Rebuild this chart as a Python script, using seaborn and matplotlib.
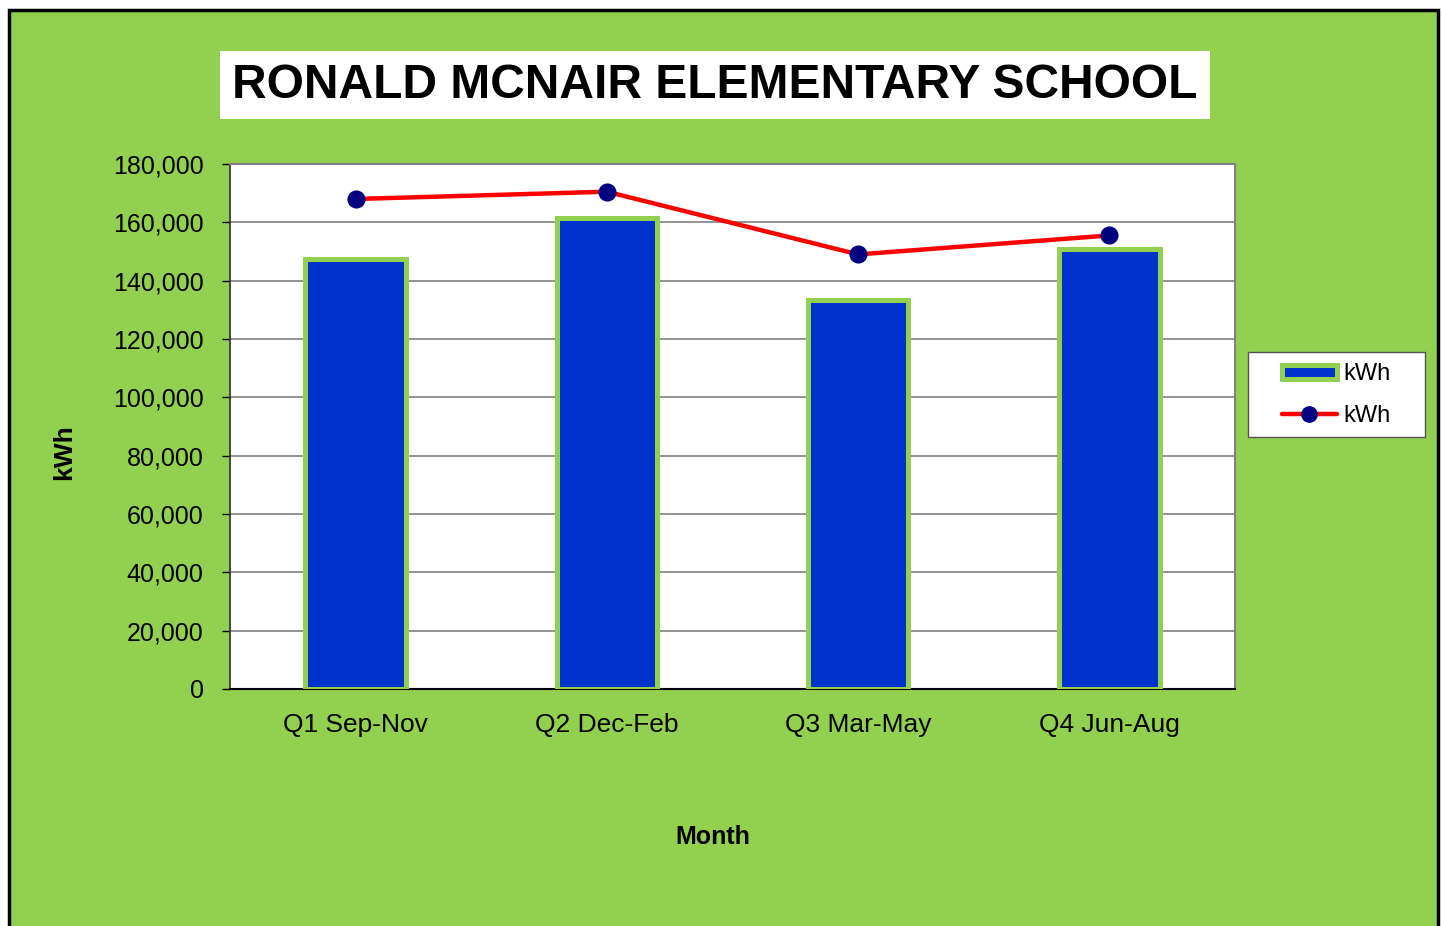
import matplotlib
matplotlib.use("Agg")
import matplotlib.pyplot as plt
from matplotlib.patches import Rectangle, Patch
from matplotlib.lines import Line2D
import seaborn as sns
import pandas as pd
import numpy as np

quarters = ["Q1 Sep-Nov", "Q2 Dec-Feb", "Q3 Mar-May", "Q4 Jun-Aug"]
bar_kwh = [147500, 161500, 133500, 151000]
line_kwh = [168000, 170500, 149000, 155500]
yticks = [0, 20000, 40000, 60000, 80000, 100000, 120000, 140000, 160000, 180000]

sns.set_theme(style="white")
plt.rcParams['font.family'] = ['Liberation Sans Narrow', 'Liberation Sans', 'DejaVu Sans']
plt.rcParams['text.color'] = 'black'
plt.rcParams['axes.labelcolor'] = 'black'
plt.rcParams['xtick.color'] = 'black'
plt.rcParams['ytick.color'] = 'black'

W, H = 1442, 926
fig = plt.figure(figsize=(W / 100, H / 100), dpi=100)
fig.patch.set_facecolor("white")

GREEN = "#92D050"
# outer green panel with black border
fig.patches.append(Rectangle((9 / W, -0.05), (1438 - 9) / W, 1 - 10 / H + 0.05,
                             transform=fig.transFigure, facecolor=GREEN,
                             edgecolor="black", linewidth=2.5, zorder=-10))

ax = fig.add_axes([230 / W, 1 - 689 / H, (1235 - 230) / W, (689 - 164) / H])
ax.set_facecolor("white")
ax.set_zorder(1)

df = pd.DataFrame({"quarter": quarters, "bar": bar_kwh, "line": line_kwh})

sns.barplot(data=df, x="quarter", y="bar", ax=ax, color="#0033CC", width=0.40,
            edgecolor=GREEN, linewidth=3.6, saturation=1, zorder=3)
for p in ax.patches:
    p.set_facecolor("#0033CC")

sns.pointplot(data=df, x="quarter", y="line", ax=ax, color="red",
              markers="o", linestyles="-")
for ln in ax.lines:
    ln.set_linewidth(3.2)
    ln.set_markersize(11)
    ln.set_markerfacecolor("#000080")
    ln.set_markeredgecolor("#000080")
    ln.set_zorder(5)
for c in ax.collections:
    c.set_facecolor("#000080")
    c.set_edgecolor("#000080")

ax.set_xlim(-0.5, 3.5)
ax.set_ylim(0, 180000)
ax.set_yticks(yticks)
ax.set_yticklabels([f"{v:,}" for v in yticks], fontsize=18)
ax.set_xticks(range(4))
ax.set_xticklabels(quarters, fontsize=19)
ax.set_xticks(np.arange(-0.5, 4.0, 1.0), minor=True)
ax.tick_params(axis="x", which="major", length=0, pad=17)
ax.tick_params(axis="x", which="minor", length=12, direction="inout", width=1, color="#333333")
ax.tick_params(axis="y", which="major", length=6, direction="out", width=1, color="black", pad=13, left=True)
ax.yaxis.grid(True, color="#808080", linewidth=1.2, zorder=0)
ax.set_axisbelow(True)

for s in ["top", "right"]:
    ax.spines[s].set_color("#808080")
    ax.spines[s].set_linewidth(1.5)
ax.spines["left"].set_color("#333333")
ax.spines["bottom"].set_color("black")
ax.spines["bottom"].set_linewidth(1.5)

ax.set_xlabel("Month", fontsize=18, fontweight="bold", family=["Liberation Sans", "DejaVu Sans"])
ax.set_ylabel("kWh", fontsize=19, fontweight="bold", family=["Liberation Sans", "DejaVu Sans"])
ax.xaxis.set_label_coords((713 - 230) / 1005, -(825 - 689) / 525)
ax.yaxis.set_label_coords(-(230 - 76) / 1005, (689 - 452) / 525)

# title box
fig.text(715 / W, 1 - 85 / H, "RONALD MCNAIR ELEMENTARY SCHOOL", fontsize=34.5,
         fontweight="bold", family=["Liberation Sans", "DejaVu Sans"], color="black",
         ha="center", va="center",
         bbox=dict(facecolor="white", edgecolor="none", boxstyle="square,pad=0.25"))

# legend frame
fig.patches.append(Rectangle((1248 / W, 1 - 437 / H), (1425 - 1248) / W, (437 - 352) / H,
                             transform=fig.transFigure, facecolor="white",
                             edgecolor="#555555", linewidth=1.0, zorder=2))
handles = [Patch(facecolor="#0033CC", edgecolor=GREEN, linewidth=3.6),
           Line2D([0], [0], color="red", linewidth=3.2, marker="o", markersize=11,
                  markerfacecolor="#000080", markeredgecolor="#000080")]
leg = fig.legend(handles, ["kWh", "kWh"], loc="center", bbox_to_anchor=(1336 / W, 1 - 395 / H),
                 frameon=False, handlelength=2.35, handleheight=0.55, borderpad=0.2,
                 labelspacing=0.85, handletextpad=0.25,
                 prop={"family": ["Liberation Sans", "DejaVu Sans"], "size": 17})
leg.set_zorder(3)
for t in leg.get_texts():
    t.set_color("black")

fig.savefig("out.png", dpi=100, facecolor=fig.get_facecolor())
